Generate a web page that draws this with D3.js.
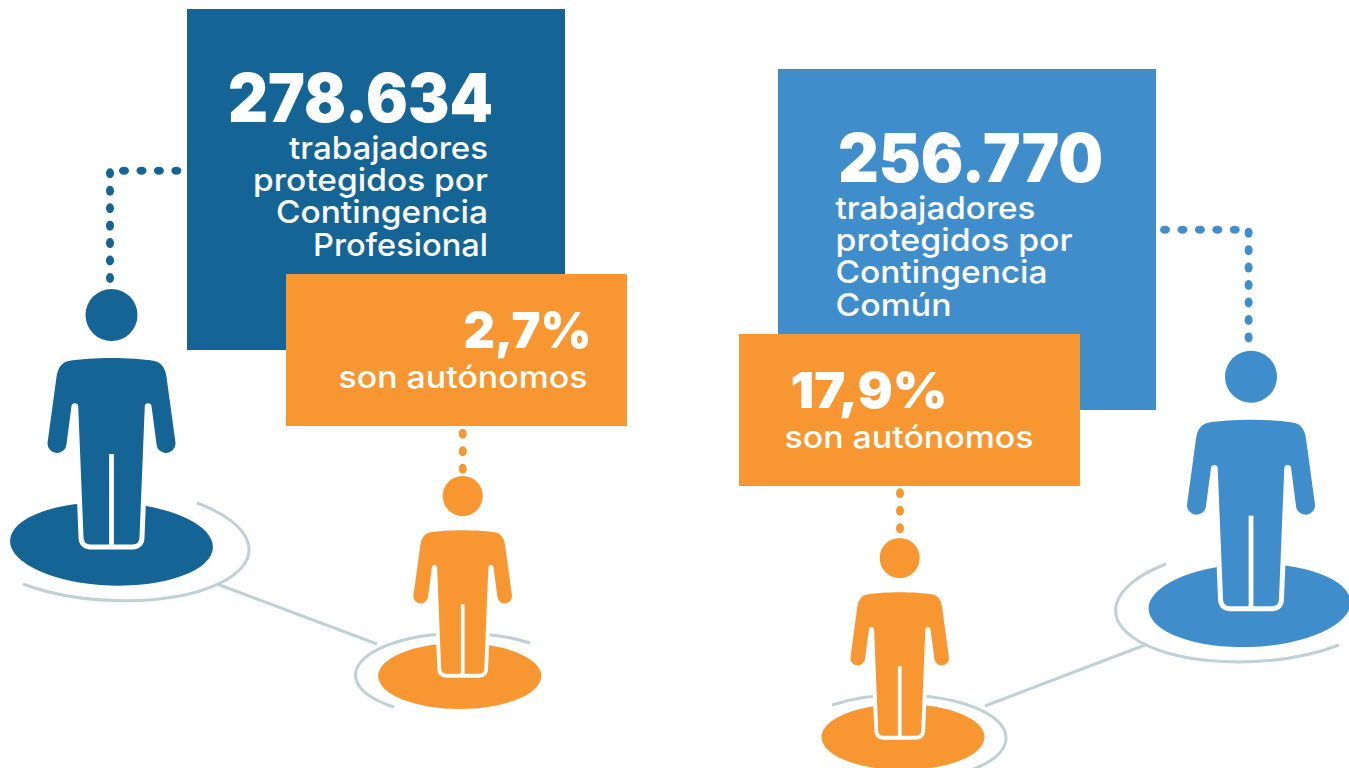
<!DOCTYPE html>
<html lang="es">
<head>
<meta charset="utf-8">
<title>Trabajadores protegidos</title>
<script src="https://cdn.jsdelivr.net/npm/d3@7"></script>
<style>
  html,body{margin:0;padding:0;background:#fff;overflow:hidden;}
  svg{display:block;}
  text{font-family:Inter,"Noto Sans",sans-serif;fill:#fff;}
  .big{font-weight:900;}
  .small{font-weight:500;}
</style>
</head>
<body>
<svg id="chart" width="1349" height="768"></svg>
<script>
// values
const totals=[278634,256770];
const shares=[2.7,17.9];
const captions=[
  ["trabajadores","protegidos por","Contingencia","Profesional"],
  ["trabajadores","protegidos por","Contingencia","Común"]
];
const shareCaption="son autónomos";

const esLocale=d3.formatLocale({decimal:",",thousands:".",grouping:[3],currency:["","€"]});
const fmtTotal=esLocale.format(",d");
const fmtShare=(v)=>esLocale.format(".1f")(v)+"%";

const DARK="#146496", LIGHT="#3f8ecb", ORANGE="#f89731", RING="#bfd1d4";

// person icon, origin at the centre of the head
const BODY="M0,43 C15,43 32,44 43,46 Q53,48 55,62 L64,128 A9.5,9.5 0 0 1 45,129 L40,91 "+
  "A3.4,3.4 0 0 0 33.3,91 L28,222 Q28,229.5 21,229.5 L-21,229.5 Q-28,229.5 -28,222 L-33.3,91 "+
  "A3.4,3.4 0 0 0 -40,91 L-45,129 A9.5,9.5 0 0 1 -64,128 L-55,62 Q-53,48 -43,46 C-32,44 -15,43 0,43 Z";

const svg=d3.select("#chart");

const drawPerson=(p)=>{
  let g=svg.append("g");
  if(p.link){
    g.append("line")
      .attr("x1",p.link[0]).attr("y1",p.link[1])
      .attr("x2",p.link[2]).attr("y2",p.link[3])
      .attr("stroke",RING).attr("stroke-width",3);
  }
  g.append("path")
    .attr("d",`M${p.ring.from} A${p.ring.rx},${p.ring.ry} ${p.ring.rot} 1 ${p.ring.sweep} ${p.ring.to}`)
    .attr("fill","none").attr("stroke",RING).attr("stroke-width",3);
  g.append("ellipse")
    .attr("rx",p.base.rx).attr("ry",p.base.ry)
    .attr("transform",`translate(${p.base.cx},${p.base.cy}) rotate(${p.base.rot})`)
    .attr("fill",p.color);
  let fig=g.append("g").attr("transform",`translate(${p.x},${p.y}) scale(${p.k})`);
  let torso=fig.append("g").attr("transform",`translate(0,${p.drop||0})`);
  torso.append("path")
    .attr("d",BODY)
    .attr("fill",p.color)
    .attr("stroke","#fff").attr("stroke-width",10).attr("stroke-linejoin","round")
    .attr("paint-order","stroke");
  torso.append("line")
    .attr("x1",0).attr("x2",0).attr("y1",139).attr("y2",230)
    .attr("stroke","#fff").attr("stroke-width",4.8);
  fig.append("circle").attr("r",26).attr("fill",p.color);
};

const drawDots=(d)=>{
  svg.append("g").selectAll("ellipse")
    .data(d3.range(d.n))
    .enter()
      .append("ellipse")
      .attr("cx",(i)=>d.x+i*d.dx)
      .attr("cy",(i)=>d.y+i*d.dy)
      .attr("rx",d.dx?5:4)
      .attr("ry",d.dx?4:5)
      .attr("fill",d.color);
};

const drawLabel=(t,cls,size,x,y,anchor,width)=>{
  svg.append("text")
    .attr("class",cls)
    .attr("x",x).attr("y",y)
    .attr("font-size",size)
    .attr("text-anchor",anchor)
    .attr("textLength",width)
    .attr("lengthAdjust","spacingAndGlyphs")
    .text(t);
};

const render=()=>{
  // connectors and figures
  drawPerson({color:DARK,x:111.5,y:315,k:1,
    link:[217,584,377,644],
    ring:{from:"197,503",to:"23,584",rx:125,ry:51,rot:3,sweep:1},
    base:{cx:111.5,cy:544,rx:101.5,ry:41.5,rot:2}});
  drawPerson({color:ORANGE,x:462.7,y:496,k:0.77,drop:1.5,
    ring:{from:"530,643",to:"394,707",rx:105,ry:41,rot:0,sweep:0},
    base:{cx:459.7,cy:676,rx:81.5,ry:33,rot:0}});
  drawPerson({color:LIGHT,x:1251,y:376.7,k:1,
    link:[985,706,1145,645],
    ring:{from:"1166,564",to:"1339,645",rx:125,ry:52,rot:-3,sweep:0},
    base:{cx:1249.5,cy:605.5,rx:101,ry:41.5,rot:-2}});
  drawPerson({color:ORANGE,x:899.7,y:558,k:0.77,drop:1.5,
    ring:{from:"832,705",to:"968,771",rx:106,ry:43,rot:0,sweep:1},
    base:{cx:903,cy:737,rx:81.5,ry:33,rot:0}});

  // dotted leaders
  drawDots({color:DARK,n:7,x:110,y:173.3,dx:0,dy:17.45});
  drawDots({color:DARK,n:4,x:124,y:170.7,dx:17.45,dy:0});
  drawDots({color:LIGHT,n:7,x:1248.6,y:232.7,dx:0,dy:17.45});
  drawDots({color:LIGHT,n:5,x:1165,y:229.7,dx:17.45,dy:0});
  drawDots({color:ORANGE,n:3,x:462.7,y:433.7,dx:0,dy:17.5});
  drawDots({color:ORANGE,n:3,x:900,y:493.3,dx:0,dy:17.5});

  // boxes
  svg.append("rect").attr("x",187).attr("y",9).attr("width",378).attr("height",341).attr("fill",DARK);
  svg.append("rect").attr("x",778).attr("y",69).attr("width",378).attr("height",341).attr("fill",LIGHT);
  svg.append("rect").attr("x",286).attr("y",274).attr("width",341).attr("height",152).attr("fill",ORANGE);
  svg.append("rect").attr("x",739).attr("y",334).attr("width",341).attr("height",152).attr("fill",ORANGE);

  // left texts
  drawLabel(fmtTotal(totals[0]),"big",67,228,122,"start",265);
  let leftW=[199,235,212,175], leftY=[159,191,223,255.5];
  captions[0].forEach((c,i)=>drawLabel(c,"small",31.5,488,leftY[i],"end",leftW[i]));
  drawLabel(fmtShare(shares[0]),"big",50,463.5,348,"start",128);
  drawLabel(shareCaption,"small",31.5,338.5,388,"start",249);

  // right texts
  drawLabel(fmtTotal(totals[1]),"big",67,838,182,"start",265);
  let rightW=[200,237,212,116], rightY=[219,251,283,315.5];
  captions[1].forEach((c,i)=>drawLabel(c,"small",31.5,835.5,rightY[i],"start",rightW[i]));
  drawLabel(fmtShare(shares[1]),"big",50,790.5,408,"start",157);
  drawLabel(shareCaption,"small",31.5,784.5,448,"start",249);
};

render();
</script>
</body>
</html>
